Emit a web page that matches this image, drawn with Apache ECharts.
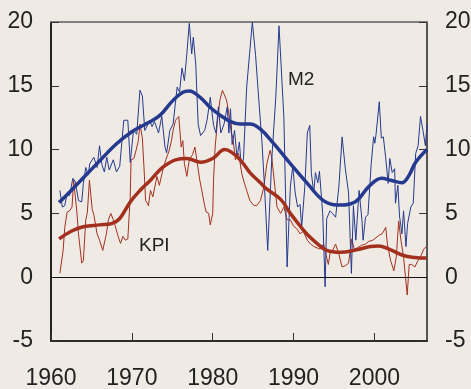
<!DOCTYPE html>
<html>
<head>
<meta charset="utf-8">
<script src="https://cdn.jsdelivr.net/npm/echarts@6/dist/echarts.min.js"></script>
<style>
  html, body { margin: 0; padding: 0; background: #efebe4; }
  #chart { width: 471px; height: 389px; }
</style>
</head>
<body>
<div id="chart"></div>
<script>
  // tick labels on the time axis
  var yearTicks = [1960, 1970, 1980, 1990, 2000];

  // M2 growth, % (thin line), [year, value]
  var m2Raw = [
    [1961.1, 6.8], [1961.4, 5.5], [1961.7, 5.6], [1962.0, 6.6], [1962.3, 6.4], [1962.7, 7.75],
    [1963.0, 7.5], [1963.4, 6.0], [1963.8, 5.9], [1964.0, 7.35], [1964.3, 8.6], [1964.6, 8.0],
    [1964.8, 8.9], [1965.3, 9.4], [1965.7, 8.6], [1966.0, 10.3], [1966.3, 8.8], [1966.6, 8.25],
    [1966.9, 9.4], [1967.2, 8.4], [1967.7, 9.2], [1968.1, 8.25], [1968.5, 8.7], [1969.0, 12.3],
    [1969.5, 12.3], [1969.8, 9.0], [1970.2, 11.5], [1970.6, 11.2], [1971.0, 14.65], [1971.3, 14.2],
    [1971.6, 11.5], [1972.0, 12.0], [1972.2, 12.3], [1972.5, 11.8], [1972.8, 12.2], [1973.3, 11.3],
    [1973.7, 12.6], [1974.1, 10.2], [1974.3, 9.75], [1974.7, 11.5], [1975.1, 12.0], [1975.6, 14.9],
    [1975.9, 14.5], [1976.2, 16.4], [1976.5, 15.4], [1976.8, 17.5], [1977.1, 19.9], [1977.4, 17.5],
    [1977.6, 18.8], [1977.9, 16.7], [1978.2, 12.0], [1978.5, 11.1], [1979.0, 11.5], [1979.3, 12.3],
    [1979.7, 14.1], [1980.1, 11.9], [1980.4, 11.3], [1980.7, 13.35], [1981.0, 11.3], [1981.4, 12.0],
    [1981.8, 13.35], [1982.0, 11.3], [1982.2, 13.2], [1982.4, 10.4], [1982.7, 11.5], [1983.0, 9.4],
    [1983.3, 10.6], [1983.5, 8.9], [1983.8, 9.2], [1984.2, 14.9], [1984.9, 20.0], [1985.3, 17.4],
    [1985.7, 13.9], [1986.1, 10.5], [1986.4, 7.1], [1986.8, 2.1], [1987.3, 9.2], [1987.8, 14.1],
    [1988.2, 19.7], [1988.6, 14.9], [1988.8, 12.5], [1989.2, 0.8], [1989.6, 7.1], [1989.9, 8.7],
    [1990.2, 6.6], [1990.5, 5.5], [1990.8, 5.7], [1991.0, 3.9], [1991.4, 7.2], [1991.7, 11.3],
    [1992.0, 11.9], [1992.2, 8.15], [1992.5, 6.6], [1992.7, 8.2], [1993.0, 7.4], [1993.2, 8.3],
    [1993.6, 5.0], [1993.9, -0.75], [1994.1, 4.6], [1994.5, 5.2], [1994.8, 5.0], [1995.2, 4.7],
    [1995.6, 7.1], [1996.0, 11.0], [1996.4, 8.5], [1996.8, 6.6], [1997.15, 0.3], [1997.4, 5.6],
    [1997.7, 2.9], [1998.1, 6.8], [1998.45, 4.5], [1998.6, 2.9], [1998.9, 4.7], [1999.2, 4.9],
    [1999.6, 8.9], [1999.9, 11.0], [2000.05, 10.5], [2000.2, 11.2], [2000.6, 13.75], [2000.85, 10.9],
    [2001.1, 11.0], [2001.4, 9.3], [2001.7, 7.35], [2001.9, 9.3], [2002.2, 8.2], [2002.5, 8.5],
    [2002.6, 5.8], [2002.9, 7.2], [2003.1, 4.8], [2003.4, 3.4], [2003.6, 5.2], [2003.9, 2.4],
    [2004.1, 4.2], [2004.5, 5.5], [2004.8, 5.8], [2005.1, 9.7], [2005.4, 10.3], [2005.7, 12.6],
    [2006.0, 11.5], [2006.3, 10.3], [2006.5, 12.0]
  ];

  // KPI inflation, % (thin line)
  var kpiRaw = [
    [1961.1, 0.3], [1961.5, 2.1], [1961.7, 3.9], [1962.0, 5.1], [1962.3, 5.2], [1962.6, 5.5],
    [1962.8, 7.6], [1963.2, 5.1], [1963.4, 3.4], [1963.8, 1.1], [1964.0, 1.3], [1964.3, 4.5],
    [1964.5, 5.1], [1964.75, 7.6], [1964.9, 7.6], [1965.1, 5.3], [1965.3, 4.9], [1965.7, 3.4],
    [1966.0, 2.9], [1966.4, 2.1], [1966.85, 3.4], [1967.1, 4.5], [1967.4, 5.0], [1967.7, 4.5],
    [1967.9, 4.1], [1968.3, 3.2], [1968.6, 2.65], [1968.9, 3.2], [1969.2, 2.9], [1969.5, 3.0],
    [1969.8, 6.3], [1969.9, 9.2], [1970.25, 9.3], [1970.5, 9.9], [1970.8, 10.7], [1971.0, 12.0],
    [1971.3, 10.9], [1971.5, 8.6], [1971.7, 6.0], [1971.9, 5.8], [1972.05, 5.6], [1972.3, 6.8],
    [1972.6, 6.3], [1973.1, 7.9], [1973.4, 7.2], [1973.9, 8.6], [1974.2, 9.2], [1974.6, 9.9],
    [1974.9, 10.7], [1975.1, 11.5], [1975.4, 12.3], [1975.8, 12.6], [1976.1, 10.2], [1976.3, 10.7],
    [1976.5, 8.9], [1976.8, 7.9], [1977.1, 9.2], [1977.5, 9.6], [1977.8, 10.2], [1978.1, 8.9],
    [1978.4, 7.6], [1978.65, 6.8], [1979.0, 5.6], [1979.2, 5.1], [1979.5, 5.0], [1979.7, 4.1],
    [1980.0, 5.0], [1980.1, 7.6], [1980.3, 10.2], [1980.6, 12.3], [1980.9, 13.9], [1981.2, 14.65],
    [1981.7, 13.9], [1981.9, 13.2], [1982.3, 11.3], [1982.5, 10.9], [1982.8, 9.2], [1983.2, 9.7],
    [1983.6, 8.1], [1983.9, 7.4], [1984.2, 6.8], [1984.6, 6.0], [1985.05, 5.65], [1985.4, 5.6],
    [1985.9, 6.0], [1986.3, 7.0], [1986.7, 8.9], [1987.1, 9.95], [1987.3, 9.4], [1987.6, 7.6],
    [1987.95, 5.5], [1988.4, 5.0], [1988.8, 5.5], [1989.2, 4.5], [1989.6, 4.5], [1990.0, 4.0],
    [1990.4, 3.8], [1990.8, 3.4], [1991.2, 3.6], [1991.7, 2.9], [1992.1, 2.6], [1992.5, 2.4],
    [1992.9, 2.3], [1993.3, 2.2], [1993.7, 2.6], [1994.0, 1.8], [1994.3, 1.0], [1994.5, 1.85],
    [1994.9, 2.2], [1995.2, 2.6], [1995.6, 1.8], [1996.0, 0.8], [1996.4, 0.9], [1996.8, 1.1],
    [1997.2, 3.0], [1997.5, 2.2], [1997.9, 2.3], [1998.4, 2.5], [1998.9, 2.6], [1999.3, 2.8],
    [1999.8, 2.9], [2000.2, 3.1], [2000.6, 3.3], [2000.95, 3.4], [2001.4, 3.9], [2001.6, 2.6],
    [2002.0, 1.3], [2002.4, 0.5], [2002.7, 1.6], [2003.0, 4.4], [2003.3, 2.8], [2003.6, 1.6],
    [2004.05, -1.4], [2004.3, 1.0], [2004.6, 1.0], [2005.0, 0.8], [2005.3, 1.2], [2005.7, 1.6],
    [2006.1, 2.2], [2006.4, 2.4]
  ];

  // smoothed trends (thick lines)
  var m2Trend = [
    [1961.0, 5.85], [1962.5, 6.8], [1964.0, 7.8], [1966.0, 9.1], [1968.0, 10.4], [1970.0, 11.4],
    [1972.0, 12.1], [1973.5, 12.7], [1975.0, 13.8], [1976.3, 14.5], [1977.1, 14.6], [1978.45, 14.1],
    [1979.7, 13.3], [1980.9, 12.7], [1982.2, 12.2], [1983.4, 12.0], [1984.6, 12.0], [1985.9, 11.6],
    [1987.5, 10.5], [1989.6, 8.9], [1991.7, 7.35], [1993.7, 6.0], [1995.4, 5.65], [1997.6, 5.9],
    [1999.3, 7.1], [2000.9, 7.75], [2002.0, 7.6], [2003.4, 7.4], [2004.2, 7.9], [2005.1, 9.0],
    [2006.5, 10.0]
  ];
  var kpiTrend = [
    [1961.0, 3.0], [1962.5, 3.6], [1964.0, 3.95], [1966.0, 4.1], [1967.5, 4.2], [1968.5, 4.6],
    [1969.8, 5.9], [1971.0, 6.8], [1972.3, 7.6], [1973.8, 8.6], [1975.4, 9.2], [1976.8, 9.3],
    [1978.5, 9.0], [1980.0, 9.3], [1981.5, 10.0], [1982.3, 9.8], [1983.4, 9.2], [1984.6, 8.2],
    [1985.9, 7.4], [1986.5, 7.0], [1988.4, 6.1], [1989.6, 5.0], [1990.7, 4.1], [1991.7, 3.35],
    [1993.0, 2.6], [1994.1, 2.1], [1995.8, 1.95], [1997.5, 2.1], [1999.5, 2.4], [2000.5, 2.45],
    [2001.8, 2.2], [2003.6, 1.7], [2005.0, 1.55], [2006.4, 1.5]
  ];

  var BLUE = '#25398f';
  var RED = '#a3301f';
  var FONT = '"Liberation Sans Narrow", "Arial Narrow", "Liberation Sans", Arial, sans-serif';

  function yAxisOpt(pos, lineColor){
    return {
      type: 'value', position: pos,
      min: -5, max: 20, interval: 5,
      axisLine: { show: true, onZero: false, lineStyle: { color: lineColor, width: 2 } },
      axisTick: { show: true, inside: true, length: 8, lineStyle: { color: '#333', width: 1 } },
      axisLabel: { fontSize: 23, color: '#222', fontFamily: FONT, margin: 18 },
      splitLine: { show: false }
    };
  }

  var chart = echarts.init(document.getElementById('chart'));
  chart.setOption({
    backgroundColor: '#efebe4',
    animation: false,
    grid: { left: 51, right: 44, top: 22, bottom: 48, outerBoundsMode: 'none' },
    xAxis: [{
      type: 'value', position: 'bottom',
      min: 1960, max: 2006.5, interval: 10,
      axisLine: { show: true, onZero: false, lineStyle: { color: '#2a2a2a', width: 2 } },
      axisTick: { show: true, inside: true, length: 8, lineStyle: { color: '#333', width: 1 } },
      axisLabel: {
        fontSize: 23, color: '#222', fontFamily: FONT, margin: 26, showMaxLabel: false,
        formatter: function(v){ return yearTicks.indexOf(v) >= 0 ? String(v) : ''; }
      },
      splitLine: { show: false }
    }, {
      type: 'value', position: 'top',
      min: 1960, max: 2006.5,
      axisLine: { show: true, onZero: false, lineStyle: { color: '#808080', width: 2 } },
      axisTick: { show: false }, axisLabel: { show: false }, splitLine: { show: false }
    }],
    yAxis: [yAxisOpt('left', '#222'), yAxisOpt('right', '#555')],
    graphic: [
      { type: 'text', left: 288, top: 70, style: { text: 'M2', fill: '#222', font: '19px ' + FONT } },
      { type: 'text', left: 139, top: 236, style: { text: 'KPI', fill: '#222', font: '19px ' + FONT } }
    ],
    series: [{
      name: 'KPI', type: 'line', data: kpiRaw, showSymbol: false,
      lineStyle: { color: RED, width: 1 },
      markLine: {
        silent: true, symbol: ['none', 'none'], label: { show: false },
        lineStyle: { color: '#111', width: 1, type: 'solid' },
        data: [{ yAxis: 0 }]
      }
    }, {
      name: 'M2', type: 'line', data: m2Raw, showSymbol: false,
      lineStyle: { color: BLUE, width: 1 }
    }, {
      name: 'KPI trend', type: 'line', data: kpiTrend, showSymbol: false, smooth: 0.4,
      lineStyle: { color: RED, width: 3.5 }
    }, {
      name: 'M2 trend', type: 'line', data: m2Trend, showSymbol: false, smooth: 0.4,
      lineStyle: { color: BLUE, width: 3.5 }
    }]
  });
</script>
</body>
</html>
